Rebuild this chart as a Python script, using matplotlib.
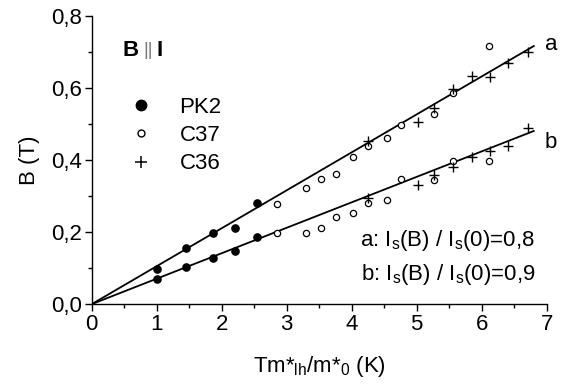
import matplotlib
matplotlib.use("Agg")
import matplotlib.pyplot as plt
from matplotlib.lines import Line2D
from matplotlib.ticker import MultipleLocator, FuncFormatter

plt.rcParams['font.family'] = ['Liberation Sans', 'DejaVu Sans']
plt.rcParams['mathtext.fontset'] = 'custom'
plt.rcParams['mathtext.rm'] = 'Liberation Sans'
plt.rcParams['mathtext.it'] = 'Liberation Sans'
plt.rcParams['mathtext.bf'] = 'Liberation Sans:bold'

# PK2 (filled circles)
pk2_x = [1.0, 1.45, 1.87, 2.2, 2.55]
pk2_a = [0.097, 0.156, 0.198, 0.212, 0.282]
pk2_b = [0.069, 0.102, 0.127, 0.147, 0.186]

# C37 (open circles)
c37_x = [2.85, 3.30, 3.52, 3.76, 4.02, 4.25, 4.54, 4.76, 5.26, 5.56, 6.11]
c37_a = [0.277, 0.323, 0.347, 0.362, 0.408, 0.438, 0.461, 0.498, 0.527, 0.586, 0.717]
c37_b = [0.198, 0.197, 0.212, 0.242, 0.252, 0.281, 0.290, 0.347, 0.345, 0.397, 0.397]

# C36 (plus)
c36_x = [4.25, 5.02, 5.26, 5.56, 5.85, 6.12, 6.41, 6.71]
c36_a = [0.453, 0.505, 0.546, 0.598, 0.634, 0.632, 0.670, 0.700]
c36_b = [0.295, 0.332, 0.360, 0.380, 0.408, 0.425, 0.440, 0.488]

# fit lines
fit_x = [0.0, 6.8]
fit_a = [0.0, 0.717]
fit_b = [0.0, 0.481]

FS = 16

fig = plt.figure(figsize=(5.66, 3.85), dpi=100)
ax = fig.add_axes([0.162, 0.210, 0.804, 0.748])

ax.plot(fit_x, fit_a, color='black', lw=1.3)
ax.plot(fit_x, fit_b, color='black', lw=1.3)

for ys in (pk2_a, pk2_b):
    ax.plot(pk2_x, ys, 'o', ms=5.2, mfc='black', mec='black', ls='none')
for ys in (c37_a, c37_b):
    ax.plot(c37_x, ys, 'o', ms=4.5, mfc='white', mec='black', mew=0.9, ls='none')
for ys in (c36_a, c36_b):
    ax.plot(c36_x, ys, '+', ms=6.5, color='black', mew=1.0, ls='none')

ax.set_xlim(0, 7)
ax.set_ylim(0, 0.8)
ax.xaxis.set_major_locator(MultipleLocator(1))
ax.xaxis.set_minor_locator(MultipleLocator(0.5))
ax.yaxis.set_major_locator(MultipleLocator(0.2))
ax.yaxis.set_minor_locator(MultipleLocator(0.1))
ax.yaxis.set_major_formatter(FuncFormatter(lambda v, p: f"{v:.1f}".replace('.', ',')))
ax.xaxis.set_major_formatter(FuncFormatter(lambda v, p: f"{v:.0f}"))
ax.tick_params(which='major', direction='out', length=5, width=1, labelsize=FS, pad=2)
ax.tick_params(which='minor', direction='out', length=3, width=1)
for s in ('top', 'right'):
    ax.spines[s].set_visible(False)
for s in ('left', 'bottom'):
    ax.spines[s].set_linewidth(1.0)

ax.set_xlabel(r"Tm*$_{\mathrm{lh}}$/m*$_{\mathrm{0}}$ (K)", fontsize=FS, labelpad=14)
ax.set_ylabel("B (T)", fontsize=FS, labelpad=8)

ax.text(6.97, 0.72, "a", fontsize=FS, ha='left', va='center', clip_on=False)
ax.text(6.97, 0.45, "b", fontsize=FS, ha='left', va='center', clip_on=False)

ax.text(6.82, 0.161, r"a: I$_{\mathrm{s}}$(B) / I$_{\mathrm{s}}$(0)=0,8", fontsize=FS, ha='right', va='baseline')
ax.text(6.82, 0.067, r"b: I$_{\mathrm{s}}$(B) / I$_{\mathrm{s}}$(0)=0,9", fontsize=FS, ha='right', va='baseline')

ax.text(0.47, 0.705, "B", fontsize=FS, fontweight='bold', ha='left', va='center')
ax.text(0.79, 0.705, "||", fontsize=13, color='#777777', ha='left', va='center')
ax.text(1.00, 0.705, "I", fontsize=FS, fontweight='bold', ha='left', va='center')

handles = [
    Line2D([], [], marker='o', ls='none', ms=7.5, mfc='black', mec='black'),
    Line2D([], [], marker='o', ls='none', ms=5, mfc='white', mec='black', mew=1.0),
    Line2D([], [], marker='+', ls='none', ms=8, color='black', mew=1.1),
]
ax.legend(handles, ["PK2", "C37", "C36"], loc='upper left', bbox_to_anchor=(0.083, 0.72),
          frameon=False, fontsize=FS, handlelength=1.0, handletextpad=1.25,
          labelspacing=0.33, borderaxespad=0, borderpad=0)

fig.savefig("out.png", dpi=100)
